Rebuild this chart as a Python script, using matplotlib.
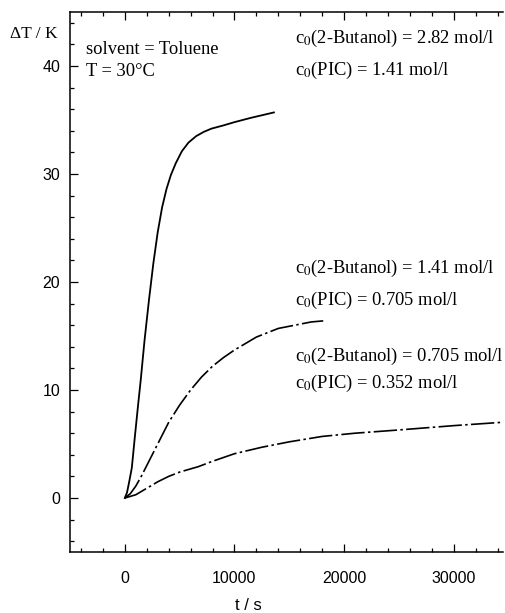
import matplotlib
matplotlib.use("Agg")
import matplotlib.pyplot as plt
from matplotlib.ticker import MultipleLocator

# curve data (t in s, dT in K)
t_high = [0, 200, 400, 640, 900, 1200, 1450, 1800, 2200, 2600, 3000, 3400, 3800, 4200, 4650,
          5200, 5800, 6500, 7200, 7900, 9000, 10000, 11500, 13600]
dT_high = [0, 0.5, 1.5, 2.8, 5.5, 8.5, 10.9, 14.6, 18.3, 21.7, 24.6, 26.9, 28.6, 29.9, 31.0,
           32.1, 32.9, 33.5, 33.9, 34.2, 34.5, 34.8, 35.2, 35.7]

t_mid = [0, 500, 1000, 1500, 2000, 2500, 3000, 3500, 4000, 4500, 5000, 5500, 6000, 7000, 8000,
         9000, 10000, 11000, 12000, 13000, 14000, 15000, 16000, 17000, 18100]
dT_mid = [0, 0.4, 1.1, 2.0, 3.0, 4.0, 5.0, 6.0, 7.0, 7.8, 8.6, 9.3, 10.0, 11.2, 12.2,
          13.0, 13.7, 14.3, 14.9, 15.3, 15.7, 15.9, 16.1, 16.3, 16.4]

t_low = [0, 1000, 2000, 3000, 4000, 5000, 6700, 8000, 10000, 12500, 15000, 18000, 21000, 25000, 30000, 34300]
dT_low = [0, 0.3, 0.9, 1.5, 2.0, 2.4, 2.9, 3.4, 4.1, 4.7, 5.2, 5.7, 6.0, 6.3, 6.7, 7.0]

x_ticks = [0, 10000, 20000, 30000]
y_ticks = [0, 10, 20, 30, 40]

plt.rcParams['mathtext.fontset'] = 'stix'
serif = ['Liberation Serif', 'DejaVu Serif']
sans = ['Liberation Sans', 'DejaVu Sans']

W, H = 506, 613
fig = plt.figure(figsize=(W / 100, H / 100), dpi=100)
ax = fig.add_axes([70 / W, 1 - 552 / H, (503 - 70) / W, (552 - 12) / H])

ax.plot(t_high, dT_high, color='black', lw=1.3, linestyle='-')
ax.plot(t_mid, dT_mid, color='black', lw=1.2, linestyle=(0, (14, 2, 1.5, 2)))
ax.plot(t_low, dT_low, color='black', lw=1.2, linestyle=(0, (14, 2, 1.5, 2)))

ax.set_xlim(-5000, 34500)
ax.set_ylim(-5, 45)
ax.set_xticks(x_ticks)
ax.set_yticks(y_ticks)
ax.xaxis.set_minor_locator(MultipleLocator(2000))
ax.yaxis.set_minor_locator(MultipleLocator(2))
ax.tick_params(which='both', direction='in', top=True, right=False, width=0.9)
ax.tick_params(which='major', length=6, labelsize=11.5)
ax.tick_params(which='minor', length=3)
ax.tick_params(axis='x', pad=14)
ax.tick_params(axis='y', pad=7)
for lab in ax.get_xticklabels() + ax.get_yticklabels():
    lab.set_family(sans)
ax.spines['right'].set_visible(False)
for s in ['left', 'bottom', 'top']:
    ax.spines[s].set_linewidth(1.1)

def ftext(px, py, s, **kw):
    fig.text(px / W, 1 - py / H, s, va='center', **kw)

fs = 13.3
ftext(58, 34, r'ΔT / K', ha='right', family=serif, fontsize=12.5)
ftext(248, 605, 't / s', ha='center', family=sans, fontsize=12)

ftext(86, 49, 'solvent = Toluene', ha='left', family=serif, fontsize=fs)
ftext(86, 72, 'T = 30°C', ha='left', family=serif, fontsize=fs)

ftext(295, 38, r'c$_0$(2-Butanol) = 2.82 mol/l', ha='left', family=serif, fontsize=fs)
ftext(295, 70, r'c$_0$(PIC) = 1.41 mol/l', ha='left', family=serif, fontsize=fs)
ftext(295, 268, r'c$_0$(2-Butanol) = 1.41 mol/l', ha='left', family=serif, fontsize=fs)
ftext(295, 300, r'c$_0$(PIC) = 0.705 mol/l', ha='left', family=serif, fontsize=fs)
ftext(295, 356, r'c$_0$(2-Butanol) = 0.705 mol/l', ha='left', family=serif, fontsize=fs)
ftext(295, 383, r'c$_0$(PIC) = 0.352 mol/l', ha='left', family=serif, fontsize=fs)

fig.savefig('out.png', dpi=100)
